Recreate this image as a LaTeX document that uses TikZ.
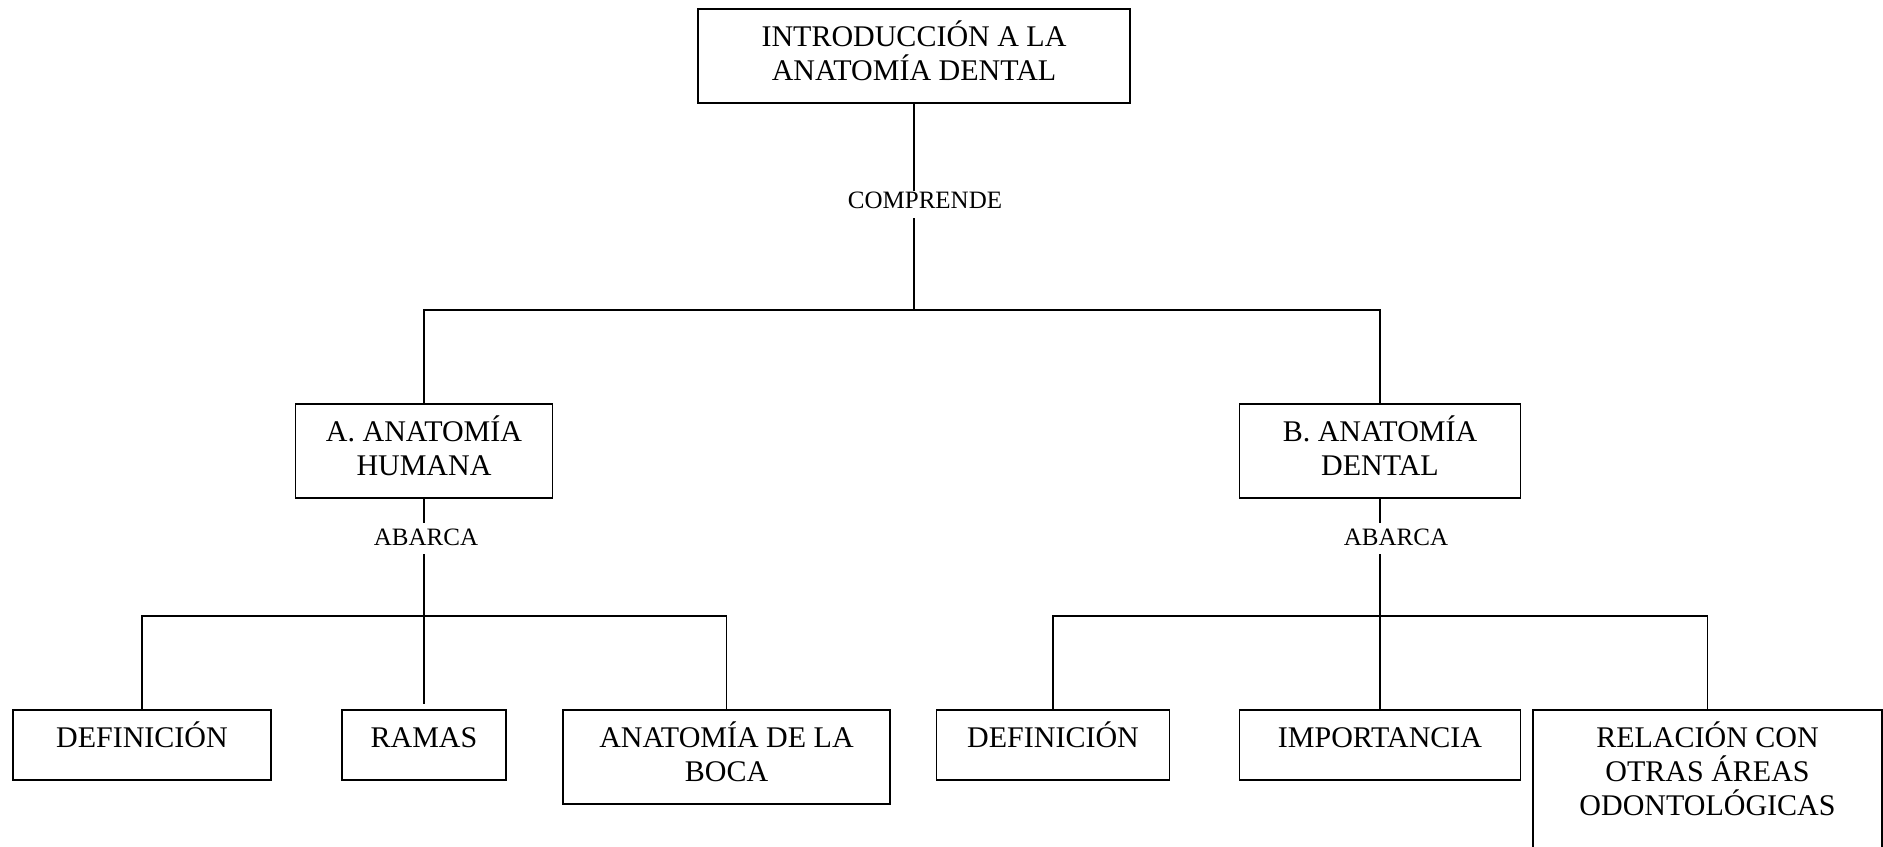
\documentclass[tikz,border=0pt]{standalone}
\usepackage{fontspec}
\setmainfont{Liberation Serif}
\usepackage{tikz}
\usetikzlibrary{positioning,calc}

\newcommand{\lineas}[1]{\vtop{\let\\\cr\halign{\hfil##\hfil\cr#1\crcr}}}

\begin{document}
\begin{tikzpicture}[x=0.4pt, y=-0.4pt, line width=0.7pt]
	\tikzstyle{every node} = [rectangle, draw = black, inner sep = 0pt]
	\tikzstyle{caja} = [anchor = north, text height = 15.2pt, font = \fontsize{12}{13.6}\selectfont]
	\tikzstyle{etiqueta} = [draw = none, font = \fontsize{10}{12}\selectfont]
\useasboundingbox (0,0) rectangle (1883,846);
\node[caja, minimum width = 172.8pt, text depth = 22.4pt] (1) at (914, 8) {\lineas{INTRODUCCIÓN A LA\\ANATOMÍA DENTAL}};
\node[caja, minimum width = 102.8pt, text depth = 22.4pt] (2) at (424, 403) {\lineas{A. ANATOMÍA\\HUMANA}};
\node[caja, minimum width = 112.4pt, text depth = 22.4pt] (3) at (1380, 403) {\lineas{B. ANATOMÍA\\DENTAL}};
\node[caja, minimum width = 103.2pt, text depth = 12.8pt] (4) at (142, 709) {DEFINICIÓN};
\node[caja, minimum width = 65.6pt, text depth = 12.8pt] (5) at (424, 709) {RAMAS};
\node[caja, minimum width = 130.8pt, text depth = 22.4pt] (6) at (726.5, 709) {\lineas{ANATOMÍA DE LA\\BOCA}};
\node[caja, minimum width = 93.2pt, text depth = 12.8pt] (7) at (1053, 709) {DEFINICIÓN};
\node[caja, minimum width = 112.4pt, text depth = 12.8pt] (8) at (1380, 709) {IMPORTANCIA};
\node[caja, minimum width = 139.6pt, text depth = 50pt] (9) at (1707.5, 709) {\lineas{RELACIÓN CON\\OTRAS ÁREAS\\ODONTOLÓGICAS}};
\node[etiqueta] (c) at (925, 200) {COMPRENDE};
\node[etiqueta] (a1) at (426, 537) {ABARCA};
\node[etiqueta] (a2) at (1396, 537) {ABARCA};
\coordinate (j0) at (914, 310);
\coordinate (j1) at (424, 616);
\coordinate (j2) at (1380, 616);
	% primer nivel
	\path[draw] (1.south) -- (1.south |- c.north);
	\path[draw][shorten <= 3.6pt] (1.south |- c.south) -- (j0);
	\path[draw] (2.north) |- (j0) -| (3.north);
	% anatomia humana
	\path[draw][shorten >= 2pt] (2.south) -- (2.south |- a1.north);
	\path[draw][shorten <= 3.2pt] (2.south |- a1.south) -- (j1);
	\path[draw] (4.north) |- (j1) -| (6.north);
	\path[draw][shorten >= 2pt] (j1) -- (5.north);
	% anatomia dental
	\path[draw][shorten >= 2pt] (3.south) -- (3.south |- a2.north);
	\path[draw][shorten <= 3.2pt] (3.south |- a2.south) -- (j2);
	\path[draw] (7.north) |- (j2) -| (9.north);
	\path[draw] (j2) -- (8.north);
\end{tikzpicture}
\end{document}
